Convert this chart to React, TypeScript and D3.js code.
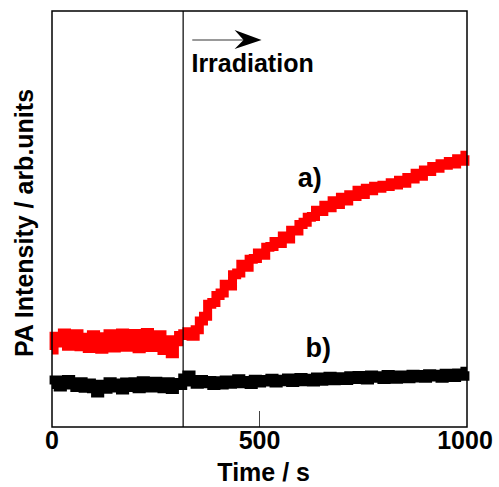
import React from 'react';
import * as d3 from 'd3';

// time grid in seconds (10 s sampling)
const times = d3.range(0, 1001, 10);

// a) PA signal, arb. units
const seriesA = [
  18.5, 21.8, 20.2, 22.6, 19.4, 21.9, 22.4, 19.3, 21.6, 18.9,
  22.2, 20.0, 18.7, 21.7, 22.4, 19.0, 20.8, 22.6, 19.2, 20.6,
  22.5, 18.8, 21.8, 22.7, 19.1, 20.9, 22.2, 18.4, 21.0, 17.6,
  20.5, 22.0, 22.4, 22.9, 21.8, 23.4, 25.5, 26.6, 29.5, 29.9,
  31.6, 32.2, 34.3, 33.9, 36.6, 37.0, 39.1, 38.4, 40.3, 40.5,
  41.8, 41.3, 43.2, 43.4, 44.6, 44.1, 45.9, 45.2, 47.3, 47.1,
  48.7, 49.2, 50.4, 50.6, 52.1, 51.8, 53.3, 52.7, 54.4, 53.5,
  55.2, 54.3, 55.8, 55.4, 56.9, 55.9, 57.4, 56.8, 57.9, 57.4,
  58.1, 57.8, 58.7, 58.2, 59.3, 58.6, 60.0, 59.6, 61.0, 60.3,
  61.8, 61.4, 62.6, 62.2, 63.3, 62.9, 63.8, 63.2, 64.5, 63.9,
  65.3,
];

// b) PA signal, arb. units
const seriesB = [
  10.2, 11.3, 9.6, 10.8, 11.4, 10.1, 9.5, 10.9, 9.3, 10.6,
  9.2, 8.2, 10.3, 9.1, 10.9, 9.4, 10.6, 8.9, 10.8, 9.5,
  10.9, 9.2, 11.1, 10.2, 9.4, 11.0, 10.0, 9.2, 10.9, 9.0,
  10.7, 10.0, 11.8, 12.5, 10.8, 10.3, 11.4, 10.4, 11.2, 10.0,
  11.1, 10.1, 11.3, 10.3, 10.9, 11.6, 10.4, 11.2, 10.2, 11.5,
  10.6, 11.4, 10.8, 11.7, 10.6, 11.5, 10.9, 11.8, 10.7, 11.6,
  11.9, 10.9, 11.7, 10.8, 12.0, 11.0, 11.8, 12.2, 11.1, 11.9,
  12.1, 11.2, 12.3, 11.4, 12.4, 11.6, 11.3, 12.5, 11.7, 12.3,
  11.4, 12.6, 11.8, 11.5, 12.5, 12.0, 11.6, 12.7, 11.8, 12.6,
  11.7, 12.8, 12.0, 12.7, 11.7, 12.9, 12.1, 11.9, 13.0, 12.2,
  13.4,
];

const xTicks = [0, 500, 1000];
const irradiationStart = 316;
const arrowFrom = 338;
const arrowTo = 505;

const width = 499;
const height = 487;
const margin = { left: 52, right: 32, top: 11, bottom: 60 };

const App = () => {
  const x = d3.scaleLinear().domain([0, 1000]).range([margin.left, width - margin.right]);
  const y = d3.scaleLinear().domain([0, 100]).range([height - margin.bottom, margin.top]);

  const line = d3.line<number>()
    .x((d, i) => x(times[i]))
    .y(d => y(d))
    .curve(d3.curveStep);

  const font = 'Liberation Sans, Arial, sans-serif';
  const x0 = x(0), x1 = x(1000), yTop = y(100), yBot = y(0);
  const ay = 40;
  const ax1 = x(arrowTo);

  return (
    <svg width={width} height={height} style={{ position: 'absolute', left: 0, top: 0, background: '#fff' }}
      fontFamily={font} fontWeight="bold">
      <path d={line(seriesA) ?? ''} fill="none" stroke="#f00" strokeWidth={9} strokeLinejoin="miter" />
      <path d={line(seriesB) ?? ''} fill="none" stroke="#000" strokeWidth={9} strokeLinejoin="miter" />

      <line x1={x(irradiationStart)} x2={x(irradiationStart)} y1={yTop} y2={yBot} stroke="#000" strokeWidth={1.2} />

      {/* inner tick */}
      <line x1={x(500)} x2={x(500)} y1={yBot - 16} y2={yBot} stroke="#444" strokeWidth={1} />

      <rect x={x0} y={yTop} width={x1 - x0} height={yBot - yTop} fill="none" stroke="#000" strokeWidth={1.5} />

      {xTicks.map(t => (
        <text key={t} x={x(t) + (t === 1000 ? -2 : 0)} y={449} textAnchor="middle" fontSize={25}>{t}</text>
      ))}
      <text x={x(510)} y={481} textAnchor="middle" fontSize={25}>Time / s</text>
      <text transform={`translate(33,${(yTop + yBot) / 2 + 4}) rotate(-90)`} textAnchor="middle" fontSize={25}>
        PA Intensity / arb.units
      </text>

      {/* irradiation arrow */}
      <line x1={x(arrowFrom)} x2={ax1 - 10} y1={ay} y2={ay} stroke="#777" strokeWidth={1.5} />
      <path d={`M${ax1},${ay} L${ax1 - 27},${ay - 10} L${ax1 - 18},${ay} L${ax1 - 27},${ay + 9} Z`} fill="#000" />
      <text x={x(336)} y={72} fontSize={25}>Irradiation</text>

      <text x={x(592)} y={187} fontSize={27}>a)</text>
      <text x={x(611)} y={357} fontSize={27}>b)</text>
    </svg>
  );
};

export default App;
